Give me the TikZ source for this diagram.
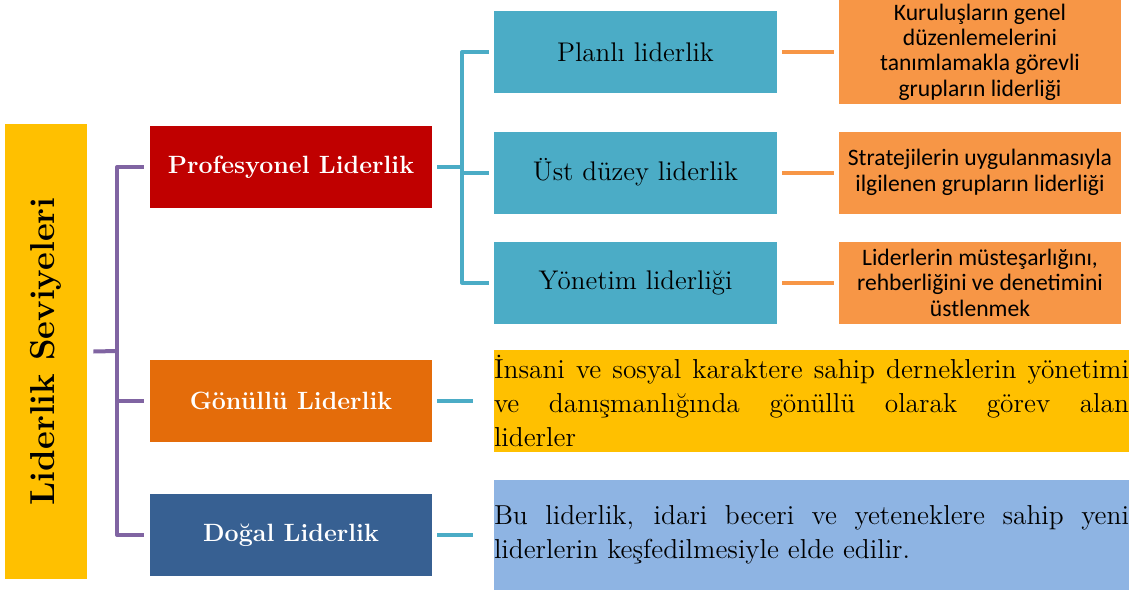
\documentclass[tikz,border=0pt]{standalone}
\usepackage{fontspec}
\newfontfamily\calibri{Carlito}
\definecolor{gold}{HTML}{FFC000}
\definecolor{redd}{HTML}{C00000}
\definecolor{orgd}{HTML}{E46C0A}
\definecolor{blued}{HTML}{376092}
\definecolor{cyanb}{HTML}{4BACC6}
\definecolor{orlight}{HTML}{F79646}
\definecolor{bluel}{HTML}{8EB4E3}
\definecolor{lilac}{HTML}{8064A2}
\hyphenpenalty=10000
\exhyphenpenalty=10000
\begin{document}
\begin{tikzpicture}[x=0.5pt,y=-0.5pt, line join=round,
	box/.style={rectangle,inner sep=0pt,minimum width=141pt,minimum height=41pt},
	lvl/.style={box,text=white,font=\fontsize{12.5}{15}\selectfont\bfseries},
	sub/.style={box,fill=cyanb,minimum width=141.5pt,font=\fontsize{13.5}{16}\selectfont},
	note/.style={box,fill=orlight,align=center,font=\calibri\fontsize{11.8}{12.7}\selectfont},
	desc/.style={rectangle,inner sep=0pt,text width=317.5pt,align=justify,font=\fontsize{13.7}{17}\selectfont},
	link/.style={line width=2pt}]
	\useasboundingbox (0,0) rectangle (1141,594);
	% left title
	\node[rectangle,fill=gold,inner sep=0pt,minimum width=41pt,minimum height=227.5pt] (lev) at (46,351.5)
		{\rotatebox{90}{\fontsize{17.3}{20}\selectfont\bfseries Liderlik Seviyeleri}};
	% levels
	\foreach \n/\y/\c/\t in {pro/167/redd/Profesyonel Liderlik, gon/401/orgd/Gönüllü Liderlik, dog/535/blued/Doğal Liderlik}{
		\node[lvl,fill=\c] (\n) at (291,\y) {\t};}
	% professional sub levels
	\node[sub] (plan) at (635.5,52) {Planlı liderlik};
	\node[sub] (ust) at (635.5,172.5) {Üst düzey liderlik};
	\node[sub] (yon) at (635.5,282.5) {Yönetim liderliği};
	\node[note,minimum height=52pt] (n1) at (980,52) {Kuruluşların genel\\düzenlemelerini\\tanımlamakla görevli\\grupların liderliği};
	\node[note] (n2) at (980,172.5) {Stratejilerin uygulanmasıyla\\ilgilenen grupların liderliği};
	\node[note] (n3) at (980,282.5) {Liderlerin müsteşarlığını,\\rehberliğini ve denetimini\\üstlenmek};
	% descriptions
	\node[desc,fill=gold,minimum height=51pt] (gtxt) at (811.5,401)
		{İnsani ve sosyal karaktere sahip derneklerin yönetimi\linebreak ve danışmanlığında gönüllü olarak görev alan\linebreak liderler};
	\node[desc,fill=bluel,minimum height=55pt] (dtxt) at (811.5,535)
		{Bu liderlik, idari beceri ve yeteneklere sahip yeni\linebreak liderlerin keşfedilmesiyle elde edilir.};
	% connectors
	\coordinate (pj) at (117,351);
	\coordinate (cj) at (462,167);
	\draw[link,lilac] ([xshift=3pt]lev.east)--(pj);
	\foreach \n in {pro,gon,dog}{
		\draw[link,lilac] (pj) |- ([xshift=-3pt]\n.west);}
	\draw[link,cyanb] ([xshift=2.5pt]pro.east)--(cj);
	\foreach \n in {plan,ust,yon}{
		\draw[link,cyanb] (cj) |- ([xshift=-2.5pt]\n.west);}
	\foreach \a/\b in {plan/n1,ust/n2,yon/n3}{
		\draw[link,orlight] ([xshift=2.5pt]\a.east)--([xshift=-2.5pt]\b.west);}
	\draw[link,cyanb] ([xshift=2.5pt]gon.east)--([xshift=-10.5pt]gtxt.west);
	\draw[link,cyanb] ([xshift=2.5pt]dog.east)--([xshift=-10.5pt]dtxt.west);
\end{tikzpicture}
\end{document}
